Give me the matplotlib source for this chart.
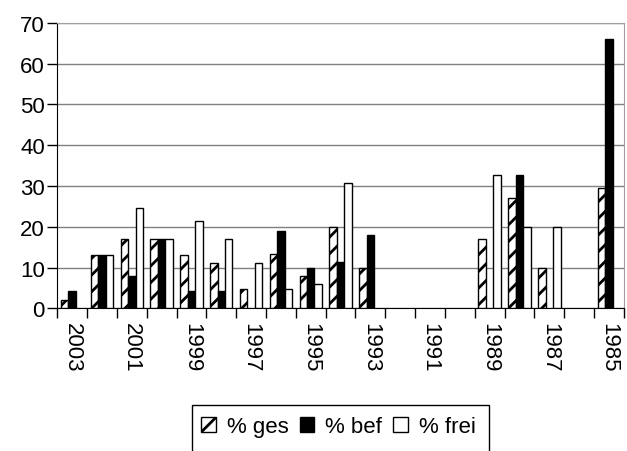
import matplotlib
matplotlib.use('Agg')
import numpy as np
import matplotlib.pyplot as plt
from matplotlib.patches import Patch, Rectangle

plt.rcParams['font.family'] = ['Liberation Sans', 'DejaVu Sans']
plt.rcParams['hatch.linewidth'] = 2.0

# Jahre (absteigend) und Werte in Prozent
years = ['2003', '2002', '2001', '2000', '1999', '1998', '1997', '1996', '1995', '1994',
         '1993', '1992', '1991', '1990', '1989', '1988', '1987', '1986', '1985']
ges = [2, 13, 17, 17, 13, 11, 4.8, 13.3, 8, 20, 10, 0, 0, 0, 17, 27, 10, 0, 29.4]
bef = [4.2, 13, 8, 17, 4.2, 4.2, 0, 19, 10, 11.3, 18, 0, 0, 0, 0, 32.7, 0, 0, 66]
frei = [0, 13, 24.6, 17, 21.5, 17, 11, 4.8, 6, 30.7, 0, 0, 0, 0, 32.7, 20, 20, 0, 0]


def no_zero(vals):
    # leere Werte nicht als Strich zeichnen
    a = np.array(vals, dtype=float)
    a[a == 0] = np.nan
    return a


fig = plt.figure(figsize=(6.27, 4.52), dpi=100)
ax = fig.add_axes([0.0914, 0.3157, 0.9036, 0.6313])

x = np.arange(len(years))
w = 0.25
ax.bar(x - w, no_zero(ges), w, color='white', edgecolor='black', hatch='//', linewidth=1, zorder=3)
ax.bar(x, no_zero(bef), w, color='black', edgecolor='black', linewidth=1, zorder=3)
ax.bar(x + w, no_zero(frei), w, color='white', edgecolor='black', linewidth=1, zorder=3)

ax.set_xlim(-0.5, len(years) - 0.5)
ax.set_ylim(0, 70)
ax.set_yticks(range(0, 71, 10))
ax.yaxis.grid(True, color='#808080', linewidth=1, zorder=0)
ax.set_axisbelow(True)

# Striche an Kategoriegrenzen, Beschriftung jedes zweite Jahr
ax.set_xticks(np.arange(-0.5, len(years), 1.0))
ax.set_xticklabels([])
ax.set_xticks(x[::2], minor=True)
ax.set_xticklabels(years[::2], minor=True, rotation=270, fontsize=16)
ax.tick_params(axis='x', which='minor', length=0, pad=10)
ax.tick_params(axis='x', which='major', length=7, width=1)
ax.tick_params(axis='y', length=7, width=1, labelsize=16, pad=2)

for s in ['top', 'right']:
    ax.spines[s].set_color('#a0a0a0')
for s in ['left', 'bottom']:
    ax.spines[s].set_color('black')

handles = [Patch(facecolor='white', edgecolor='black', hatch='//', label='% ges'),
           Patch(facecolor='black', edgecolor='black', label='% bef'),
           Patch(facecolor='white', edgecolor='black', label='% frei')]
fig.legend(handles=handles, loc='center left', bbox_to_anchor=(190 / 627, 1 - 428 / 452),
           ncol=3, frameon=False, fontsize=16, handlelength=0.65, handleheight=0.65,
           handletextpad=0.5, columnspacing=0.5, borderpad=0)
fig.patches.append(Rectangle((192 / 627, -0.05), (489 - 192) / 627, 0.05 + 46 / 452,
                             transform=fig.transFigure, facecolor='none',
                             edgecolor='black', linewidth=1))

fig.savefig('out.png', dpi=100)
